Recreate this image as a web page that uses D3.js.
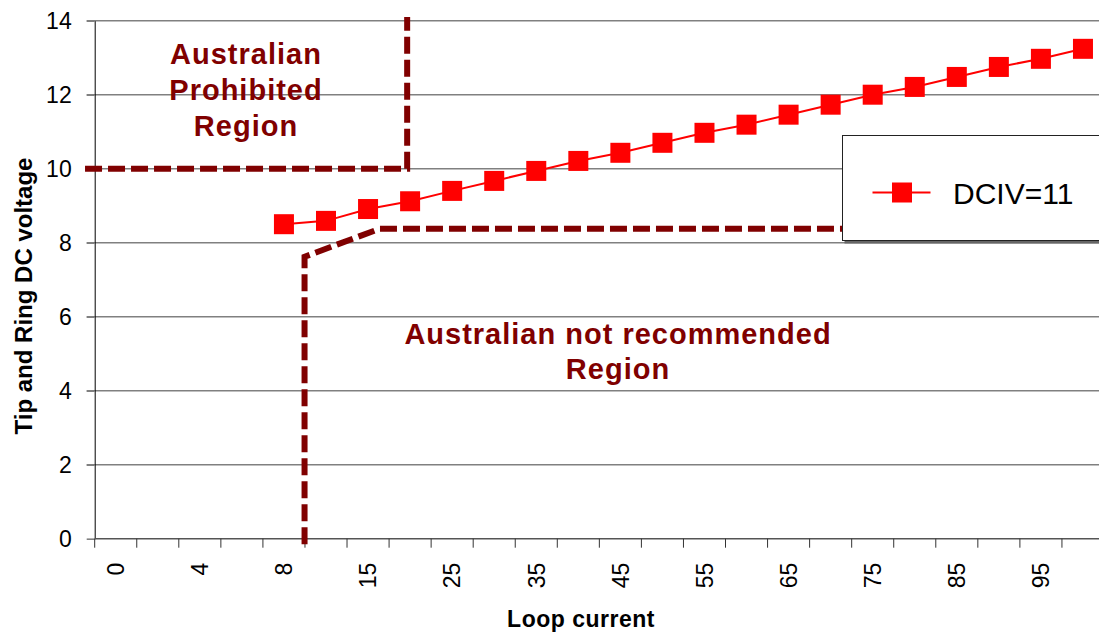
<!DOCTYPE html>
<html>
<head>
<meta charset="utf-8">
<script src="https://cdnjs.cloudflare.com/ajax/libs/d3/7.8.5/d3.min.js"></script>
<style>
	body { margin: 0; background: white; }
	svg { display: block; overflow: hidden; }
	text { font-family: Arial, "Liberation Sans", sans-serif; }
</style>
</head>
<body>
<svg id="chart" width="1099" height="637"></svg>
<script>
	// categories on the x axis (loop current)
	var currents = ["0","2","4","6","8","10","15","20","25","30","35","40","45","50","55","60","65","70","75","80","85","90","95","100"];
	var shownLabels = ["0","4","8","15","25","35","45","55","65","75","85","95"];
	var yTicks = [0, 2, 4, 6, 8, 10, 12, 14];

	// series DCIV=11
	var seriesName = "DCIV=11";
	var seriesCurrent = ["8","10","15","20","25","30","35","40","45","50","55","60","65","70","75","80","85","90","95","100"];
	var seriesVoltage = [8.50, 8.59, 8.91, 9.12, 9.40, 9.67, 9.94, 10.21, 10.43, 10.70, 10.97, 11.19, 11.46, 11.73, 12.00, 12.21, 12.48, 12.75, 12.97, 13.24];

	// region boundaries: [category position, voltage]
	var prohibitedLine = [[-0.23, 10], [7.43, 10], [7.43, 14.1]];
	var notRecommendedLine = [[4.99, -0.15], [4.99, 7.62], [6.78, 8.38], [24, 8.38]];

	var WIDTH = 1099, HEIGHT = 637;
	var margin = {left: 94.7, right: 1104, top: 20.7, bottom: 538.7};
	var RED = "#ff0000", DARKRED = "#800000";

	var svg = d3.select("#chart");
	svg.append("rect").attr("width", WIDTH).attr("height", HEIGHT).attr("fill", "white");

	var x = d3.scaleBand().domain(currents).range([margin.left, margin.right]).padding(0);
	var xPos = d3.scaleLinear().domain([0, currents.length]).range([margin.left, margin.right]);
	var y = d3.scaleLinear().domain([0, 14]).range([margin.bottom, margin.top]);
	var bw = x.bandwidth();

	// gridlines
	svg.append("g").selectAll("line")
		.data(yTicks.slice(1))
		.enter().append("line")
		.attr("x1", margin.left - 8)
		.attr("x2", margin.right)
		.attr("y1", function(d){ return y(d); })
		.attr("y2", function(d){ return y(d); })
		.attr("stroke", "#808080")
		.attr("stroke-width", 1.6);

	// y axis
	var yAxis = svg.append("g")
		.attr("transform", "translate(" + margin.left + ",0)")
		.call(d3.axisLeft(y).tickValues(yTicks).tickSize(8).tickSizeOuter(0).tickPadding(14));
	yAxis.select(".domain").attr("stroke", "#000").attr("stroke-width", 1);
	yAxis.selectAll(".tick line").attr("stroke", "#808080").attr("stroke-width", 1.6);
	yAxis.selectAll(".tick text")
		.style("font-size", "23px")
		.attr("fill", "#000")
		.attr("x", 71.7 - margin.left)
		.attr("dy", "0.36em");

	// x axis - ticks at category boundaries like excel
	var xAxis = svg.append("g").attr("transform", "translate(0," + margin.bottom + ")");
	xAxis.append("line")
		.attr("x1", margin.left).attr("x2", margin.right)
		.attr("stroke", "#555").attr("stroke-width", 1.6);
	xAxis.selectAll(".xtick")
		.data(d3.range(currents.length + 1))
		.enter().append("line")
		.attr("class", "xtick")
		.attr("x1", function(i){ return xPos(i); })
		.attr("x2", function(i){ return xPos(i); })
		.attr("y1", 0).attr("y2", 9)
		.attr("stroke", "#333").attr("stroke-width", 1);
	xAxis.selectAll(".xlabel")
		.data(shownLabels)
		.enter().append("text")
		.attr("class", "xlabel")
		.attr("transform", function(d){ return "translate(" + (x(d) + bw / 2) + ",24) rotate(-90)"; })
		.attr("text-anchor", "end")
		.attr("dy", "0.36em")
		.style("font-size", "23px")
		.text(function(d){ return d; });

	// axis titles
	svg.append("text")
		.attr("transform", "translate(31.5,296) rotate(-90)")
		.attr("text-anchor", "middle")
		.style("font-size", "24px").style("font-weight", "bold")
		.text("Tip and Ring DC voltage");
	svg.append("text")
		.attr("x", 581).attr("y", 627)
		.attr("text-anchor", "middle")
		.style("font-size", "23px").style("font-weight", "bold").style("letter-spacing", "0.5px")
		.text("Loop current");

	// region lines
	var regionLine = d3.line()
		.x(function(d){ return xPos(d[0]); })
		.y(function(d){ return y(d[1]); });
	[prohibitedLine, notRecommendedLine].forEach(function(pts){
		svg.append("path")
			.attr("d", regionLine(pts))
			.attr("fill", "none")
			.attr("stroke", DARKRED)
			.attr("stroke-width", 6)
			.attr("stroke-dasharray", "17,6");
	});

	// region labels
	function multiLine(lines, cx, y0, step){
		var t = svg.append("text")
			.attr("text-anchor", "middle")
			.attr("fill", DARKRED)
			.style("font-size", "29px").style("font-weight", "bold").style("letter-spacing", "1px");
		lines.forEach(function(l, i){
			t.append("tspan").attr("x", cx).attr("y", y0 + i * step).text(l);
		});
	}
	multiLine(["Australian", "Prohibited", "Region"], 246, 63.5, 36);
	multiLine(["Australian not recommended", "Region"], 618, 343.5, 35);

	// series
	var seriesData = seriesCurrent.map(function(c, i){ return {c: c, v: seriesVoltage[i]}; });
	svg.append("path")
		.datum(seriesData)
		.attr("d", d3.line()
			.x(function(d){ return x(d.c) + bw / 2; })
			.y(function(d){ return y(d.v); }))
		.attr("fill", "none")
		.attr("stroke", RED)
		.attr("stroke-width", 2);
	svg.append("g").selectAll("rect")
		.data(seriesData)
		.enter().append("rect")
		.attr("x", function(d){ return x(d.c) + bw / 2 - 10; })
		.attr("y", function(d){ return y(d.v) - 10; })
		.attr("width", 20).attr("height", 20)
		.attr("fill", RED);

	// legend
	var legend = svg.append("g").attr("transform", "translate(842.5,135.5)");
	legend.append("rect")
		.attr("x", 2).attr("y", 2).attr("width", 280).attr("height", 106)
		.attr("fill", "#666");
	legend.append("rect")
		.attr("width", 280).attr("height", 105)
		.attr("fill", "white").attr("stroke", "#222").attr("stroke-width", 1);
	legend.append("line")
		.attr("x1", 30).attr("x2", 88).attr("y1", 57).attr("y2", 57)
		.attr("stroke", RED).attr("stroke-width", 2);
	legend.append("rect")
		.attr("x", 49.5).attr("y", 47).attr("width", 20).attr("height", 20)
		.attr("fill", RED);
	legend.append("text")
		.attr("x", 110.5).attr("y", 68)
		.style("font-size", "30px")
		.text(seriesName);
</script>
</body>
</html>
